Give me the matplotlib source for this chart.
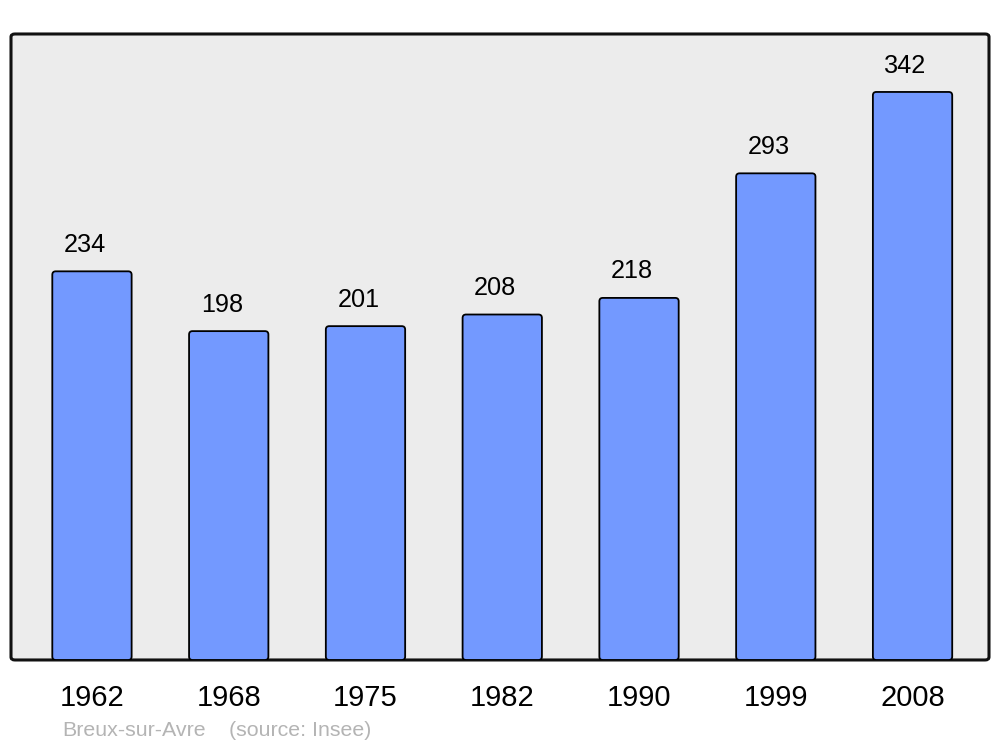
import matplotlib
matplotlib.use("Agg")
import matplotlib.pyplot as plt
from matplotlib.patches import FancyBboxPatch

years = ["1962", "1968", "1975", "1982", "1990", "1999", "2008"]
population = [234, 198, 201, 208, 218, 293, 342]
town = "Breux-sur-Avre"
source = "(source: Insee)"

plt.rcParams['font.family'] = ['Liberation Sans', 'DejaVu Sans']

fig = plt.figure(figsize=(10, 7.47), dpi=100)
ax = fig.add_axes([0.011, 0.1165, 0.978, 0.838])
ax.set_xlim(-0.592, 6.559)
ax.set_ylim(0, 376.9)
ax.patch.set_visible(False)
for s in ax.spines.values():
    s.set_visible(False)

# rounded background frame
bg = FancyBboxPatch((0, 0), 1, 1, boxstyle="round,pad=0,rounding_size=0.004",
                    transform=ax.transAxes, facecolor="#ececec", edgecolor="#111111",
                    linewidth=2.2, zorder=0, clip_on=False, mutation_aspect=1.17)
ax.add_patch(bg)

x = list(range(len(years)))
bars = ax.bar(x, population, width=0.58, color="#7399ff", edgecolor="black", linewidth=1.3)

# replace rectangles with slightly rounded boxes built from the bar geometry
aspect = (376.9 / 626) / (7.151 / 978)
for b in bars:
    b.set_visible(False)
    rp = FancyBboxPatch((b.get_x(), b.get_y()), b.get_width(), b.get_height(),
                        boxstyle="round,pad=0,rounding_size=0.025",
                        mutation_aspect=aspect, facecolor="#7399ff",
                        edgecolor="black", linewidth=1.3, zorder=2)
    ax.add_patch(rp)

for xi, v in zip(x, population):
    ax.annotate(str(v), (xi, v), xytext=(-5, 14), textcoords="offset points",
                ha="center", va="baseline", fontsize=18.2, color="black")

ax.set_xticks(x)
ax.set_xticklabels(years, fontsize=21)
ax.tick_params(axis="x", length=0, pad=17.5)
ax.set_yticks([])

fig.text(0.062, 1 - 736 / 747, town, fontsize=15.4,
         color="#b4b4b4", ha="left", va="baseline")
fig.text(0.229, 1 - 736 / 747, source, fontsize=15.4,
         color="#b4b4b4", ha="left", va="baseline")

fig.savefig("out.png", dpi=100, facecolor="white")
